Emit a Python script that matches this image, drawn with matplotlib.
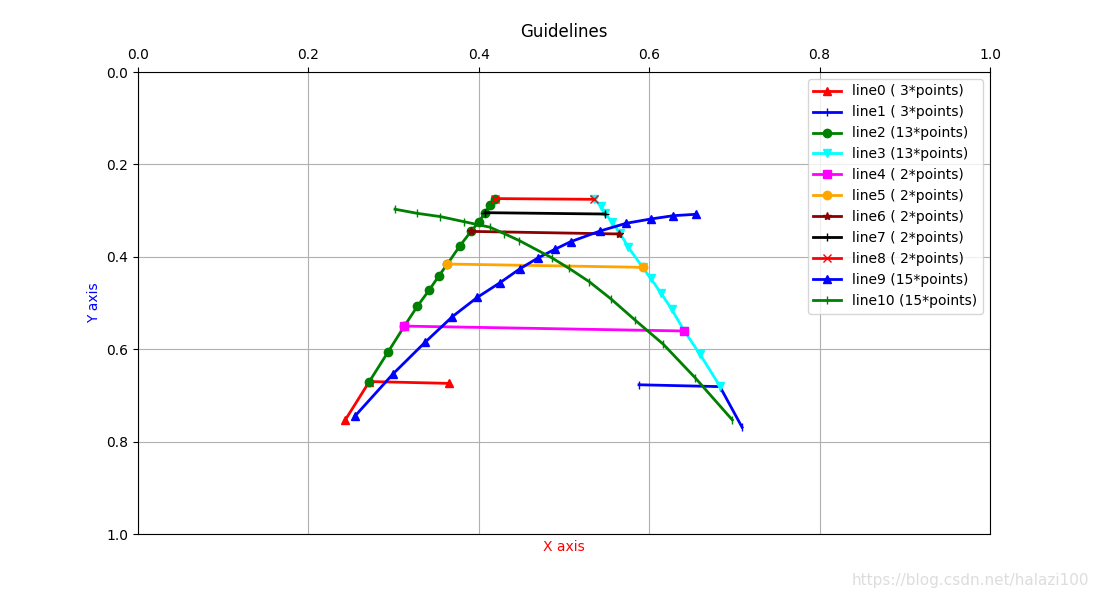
import matplotlib
matplotlib.use("Agg")
import matplotlib.pyplot as plt

lines_x = [
    [0.2433, 0.2715, 0.3654],
    [0.588, 0.683, 0.709],
    [0.2715, 0.2938, 0.3126, 0.3279, 0.3415, 0.3533, 0.3631, 0.3779, 0.3908, 0.4002, 0.4073, 0.4131, 0.419],
    [0.5356, 0.5434, 0.5481, 0.556, 0.5657, 0.5755, 0.5923, 0.6017, 0.6135, 0.6264, 0.6412, 0.6596, 0.683],
    [0.3126, 0.6412],
    [0.3631, 0.5923],
    [0.3908, 0.5649],
    [0.4073, 0.5481],
    [0.419, 0.5356],
    [0.2547, 0.299, 0.3369, 0.3689, 0.3983, 0.4249, 0.4484, 0.4699, 0.489, 0.5078, 0.5423, 0.5728, 0.6017, 0.6283, 0.6546],
    [0.3016, 0.3279, 0.3549, 0.3826, 0.4131, 0.43, 0.4476, 0.4855, 0.5059, 0.5297, 0.5552, 0.5833, 0.6166, 0.6538, 0.6976],
]
lines_y = [
    [0.753, 0.670, 0.674],
    [0.677, 0.681, 0.769],
    [0.670, 0.605, 0.55, 0.507, 0.4726, 0.4408, 0.4156, 0.376, 0.345, 0.324, 0.3045, 0.2886, 0.274],
    [0.2756, 0.290, 0.3059, 0.324, 0.349, 0.3795, 0.4228, 0.4466, 0.4777, 0.5137, 0.5606, 0.611, 0.680],
    [0.55, 0.5606],
    [0.4156, 0.4228],
    [0.345, 0.3506],
    [0.3045, 0.3074],
    [0.274, 0.2756],
    [0.7446, 0.654, 0.585, 0.5296, 0.4877, 0.456, 0.4257, 0.402, 0.384, 0.3673, 0.3442, 0.3275, 0.3182, 0.311, 0.308],
    [0.297, 0.306, 0.313, 0.324, 0.336, 0.35, 0.365, 0.402, 0.425, 0.454, 0.4913, 0.5368, 0.5894, 0.6616, 0.7532],
]
colors = ['red', 'blue', 'green', 'cyan', 'magenta', 'orange', 'darkred', 'black', 'red', 'blue', 'green']
markers = ['^', '|', 'o', 'v', 's', 'o', '*', '+', 'x', '^', '|']

fig = plt.figure(figsize=(11, 6), dpi=100)
ax = fig.add_axes([0.1255, 0.11, 0.7745, 0.77])
for i, (xs, ys) in enumerate(zip(lines_x, lines_y)):
    ax.plot(xs, ys, color=colors[i], marker=markers[i], lw=2,
            label="line%d (%2d*points)" % (i, len(xs)))
ax.set_xlim(0, 1)
ax.set_ylim(1, 0)
ax.xaxis.tick_top()
ax.grid(True)
ax.set_title("Guidelines", pad=8)
ax.set_xlabel("X axis", color='red')
ax.set_ylabel("Y axis", color='blue')
ax.legend(loc='upper right')
fig.text(0.99, 0.025, "https://blog.csdn.net/halazi100", ha='right', color='#dddddd', fontsize=11)
fig.savefig("out.png")
